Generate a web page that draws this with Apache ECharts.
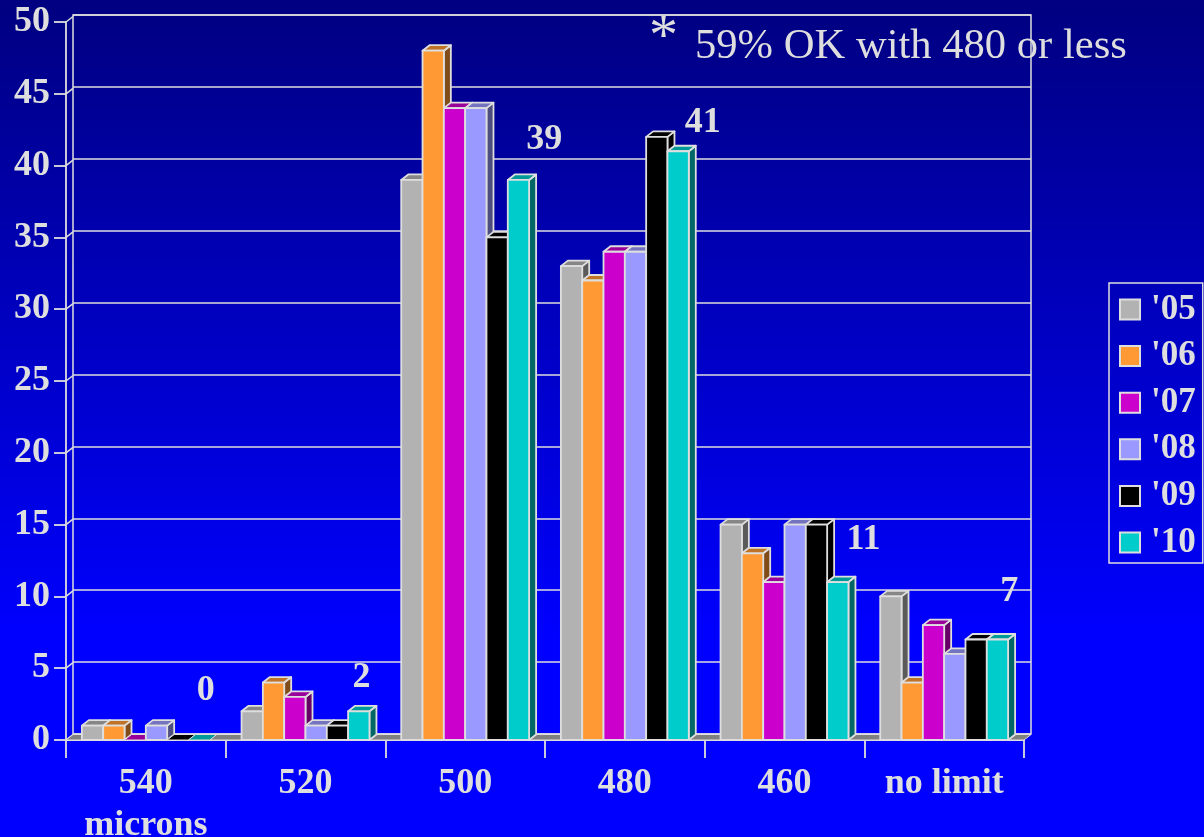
<!DOCTYPE html>
<html>
<head>
<meta charset="utf-8">
<style>html,body{margin:0;padding:0;background:#0000ff}#c{width:1204px;height:837px}</style>
<script src="https://cdn.jsdelivr.net/npm/echarts@6/dist/echarts.min.js"></script>
</head>
<body>
<div id="c"></div>
<script>
const categories = ['540\nmicrons', '520', '500', '480', '460', 'no limit'];
const yTicks = [0, 5, 10, 15, 20, 25, 30, 35, 40, 45, 50];
const y05 = [1, 2, 39, 33, 15, 10];
const y06 = [1, 4, 48, 32, 13, 4];
const y07 = [0, 3, 44, 34, 11, 8];
const y08 = [1, 1, 44, 34, 15, 6];
const y09 = [0, 1, 35, 42, 15, 7];
const y10 = [0, 2, 39, 41, 11, 7];
const seriesNames = ["'05", "'06", "'07", "'08", "'09", "'10"];
const seriesValues = [y05, y06, y07, y08, y09, y10];
const note = '59% OK with 480 or less';

const front = ['#b2b2b2', '#ff9933', '#cc00cc', '#9999ff', '#000000', '#00cccc'];
const topFace = ['#868686', '#bf7326', '#990099', '#7373bf', '#000000', '#009999'];
const sideFace = ['#5a5a5a', '#804d1a', '#660066', '#4d4d80', '#000000', '#006666'];
const labelNudge = [[60, -49], [56, -34], [79, -40], [78, -29], [79, -42], [65, -48]];
const ink = '#dedede';
const serif = '"Liberation Serif", "Times New Roman", serif';
const DX = 7, DY = -5.5;

function bar3d(si) {
  return function (params, api) {
    const cat = api.value(0), v = api.value(1);
    const base = api.coord([cat, 0]);
    const top = api.coord([cat, v]);
    const band = api.size([1, 0])[0];
    const w = band * 0.1335;
    const x0 = base[0] + (si - 3) * w, x1 = x0 + w;
    const yt = top[1], yb = base[1];
    const st = { stroke: ink, lineWidth: 1.8, lineJoin: 'round' };
    const kids = [];
    if (v > 0) {
      kids.push({ type: 'polygon', shape: { points: [[x1, yb], [x1 + DX, yb + DY], [x1 + DX, yt + DY], [x1, yt]] }, style: Object.assign({ fill: sideFace[si] }, st) });
    }
    kids.push({ type: 'polygon', shape: { points: [[x0, yt], [x0 + DX, yt + DY], [x1 + DX, yt + DY], [x1, yt]] }, style: Object.assign({ fill: topFace[si] }, st, v > 0 ? {} : { lineWidth: 1 }) });
    if (v > 0) {
      kids.push({ type: 'rect', shape: { x: x0, y: yt, width: w, height: yb - yt }, style: Object.assign({ fill: front[si] }, st) });
    }
    return { type: 'group', children: kids };
  };
}

const barSeries = seriesNames.map((name, si) => ({
  name,
  type: 'custom',
  coordinateSystem: 'cartesian2d',
  xAxisIndex: 0, yAxisIndex: 0,
  clip: false, z: 5,
  itemStyle: { color: front[si], borderColor: ink, borderWidth: 1.5 },
  encode: { x: 0, y: 1 },
  data: seriesValues[si].map((v, i) => [i, v]),
  renderItem: bar3d(si)
}));

const wallSeries = {
  name: 'wall', type: 'custom', coordinateSystem: 'cartesian2d',
  xAxisIndex: 0, yAxisIndex: 0, clip: false, z: 3, silent: true,
  encode: { y: 0 },
  data: yTicks.map(t => [t]),
  renderItem(params, api) {
    const p = api.coord([0, api.value(0)]);
    const x = p[0] - api.size([1, 0])[0] / 2;
    return { type: 'line', shape: { x1: x, y1: p[1], x2: x + DX, y2: p[1] + DY }, style: { stroke: ink, lineWidth: 1.5 } };
  }
};

const floorSeries = {
  name: 'floor', type: 'custom', coordinateSystem: 'cartesian2d',
  xAxisIndex: 0, yAxisIndex: 0, clip: false, z: 4, silent: true,
  encode: { x: 0 },
  data: [[0]],
  renderItem(params, api) {
    const band = api.size([1, 0])[0];
    const a = api.coord([0, 0]), b = api.coord([categories.length - 1, 0]);
    const l = a[0] - band / 2, r = b[0] + band / 2, y = a[1];
    return { type: 'polygon', shape: { points: [[l, y], [l + DX, y + DY], [r + DX, y + DY], [r, y]] }, style: { fill: '#808080', stroke: ink, lineWidth: 1 } };
  }
};

const labelSeries = {
  name: 'labels', type: 'custom', coordinateSystem: 'cartesian2d',
  xAxisIndex: 0, yAxisIndex: 0, clip: false, z: 8, silent: true,
  encode: { x: 0, y: 1 },
  data: y10.map((v, i) => [i, v]),
  renderItem(params, api) {
    const i = api.value(0), v = api.value(1);
    const p = api.coord([i, v]);
    const n = labelNudge[i];
    return { type: 'text', style: { text: String(v), x: p[0] + n[0], y: p[1] + n[1], fill: ink, font: 'bold 36px ' + serif, textAlign: 'center', textVerticalAlign: 'middle' } };
  }
};

const chart = echarts.init(document.getElementById('c'), null, { renderer: 'canvas' });
chart.setOption({
  animation: false,
  backgroundColor: { type: 'linear', x: 0, y: 0, x2: 0, y2: 1, colorStops: [{ offset: 0, color: '#000080' }, { offset: 0.76, color: '#0000ff' }, { offset: 1, color: '#0000ff' }] },
  grid: [
    { left: 66, top: 22, width: 958, height: 718, show: false, outerBoundsMode: 'none' },
    { left: 73, top: 15, width: 958, height: 719, show: true, borderColor: ink, borderWidth: 1.5, backgroundColor: 'transparent', outerBoundsMode: 'none' }
  ],
  xAxis: [
    { type: 'category', gridIndex: 0, data: categories, boundaryGap: true,
      axisLine: { show: true, lineStyle: { color: ink, width: 1.8 } },
      axisTick: { show: true, length: 18, alignWithLabel: false, lineStyle: { color: ink, width: 1.8 } },
      axisLabel: { color: ink, fontFamily: serif, fontWeight: 'bold', fontSize: 36, lineHeight: 42, margin: 23, interval: 0 } },
    { type: 'category', gridIndex: 1, data: categories, show: false }
  ],
  yAxis: [
    { type: 'value', gridIndex: 0, min: 0, max: 50, interval: 5,
      axisLine: { show: true, lineStyle: { color: ink, width: 1.8 } },
      axisTick: { show: true, length: 12, lineStyle: { color: ink, width: 1.8 } },
      splitLine: { show: false },
      axisLabel: { color: ink, fontFamily: serif, fontWeight: 'bold', fontSize: 36, margin: 16, padding: [3, 0, 0, 0] } },
    { type: 'value', gridIndex: 1, min: 0, max: 50, interval: 5,
      axisLine: { show: false }, axisTick: { show: false }, axisLabel: { show: false },
      splitLine: { show: true, lineStyle: { color: ink, width: 1.5 } } }
  ],
  legend: {
    show: true, orient: 'vertical', left: 1109, top: 283, width: 94,
    data: seriesNames, icon: 'rect', itemWidth: 20, itemHeight: 20, itemGap: 11.6,
    padding: [9, 7, 3, 10],
    borderColor: ink, borderWidth: 1.5, selectedMode: false,
    textStyle: { color: ink, fontFamily: serif, fontWeight: 'bold', fontSize: 35, lineHeight: 34, padding: [0, 0, 0, 6] }
  },
  graphic: [
    { type: 'text', left: 649, top: 10, z: 20, silent: true, style: { text: '*', fill: ink, font: '58px ' + serif } },
    { type: 'text', left: 695, top: 25, z: 20, silent: true, style: { text: note, fill: ink, font: '42.6px ' + serif } }
  ],
  series: [wallSeries, floorSeries].concat(barSeries, [labelSeries])
});
</script>
</body>
</html>
